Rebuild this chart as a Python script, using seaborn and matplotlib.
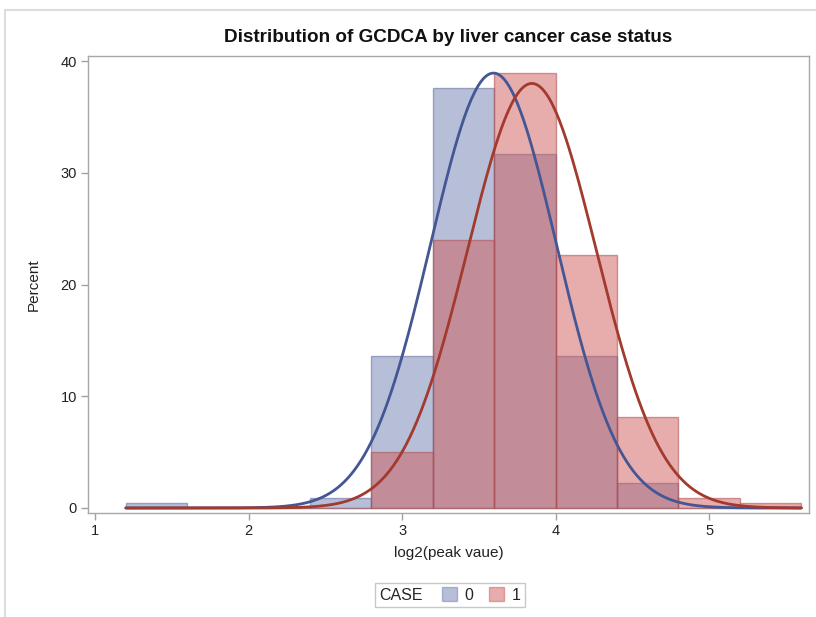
import numpy as np
import pandas as pd
import matplotlib
matplotlib.use("Agg")
import matplotlib.pyplot as plt
import seaborn as sns
from matplotlib.patches import Patch
from matplotlib.lines import Line2D
from matplotlib.offsetbox import HPacker

# ---- data ----
bin_edges = [1.2, 1.6, 2.0, 2.4, 2.8, 3.2, 3.6, 4.0, 4.4, 4.8, 5.2, 5.6]
pct_case0 = [0.45, 0.0, 0.0, 0.9, 13.57, 37.56, 31.67, 13.57, 2.26, 0.0, 0.0]
pct_case1 = [0.0, 0.0, 0.0, 0.0, 4.98, 23.98, 38.91, 22.62, 8.14, 0.9, 0.45]
case_labels = ["0", "1"]
norm_mu = [3.595, 3.845]
norm_sigma = [0.410, 0.420]
x_ticks = [1, 2, 3, 4, 5]
y_ticks = [0, 10, 20, 30, 40]

title = "Distribution of GCDCA by liver cancer case status"
xlabel = "log2(peak vaue)"
ylabel = "Percent"

fill_colors = ["#6F7EB3", "#D05B5B"]
line_colors = ["#445694", "#A23A2E"]

sns.set_style("white")
plt.rcParams["font.family"] = ["Liberation Sans", "DejaVu Sans"]

centers = [(a + b) / 2 for a, b in zip(bin_edges[:-1], bin_edges[1:])]
df = pd.DataFrame({
    "x": centers * 2,
    "pct": pct_case0 + pct_case1,
    "CASE": [case_labels[0]] * len(centers) + [case_labels[1]] * len(centers),
})

fig = plt.figure(figsize=(8.16, 6.17), dpi=100)
ax = fig.add_axes([88 / 816, 1 - 513 / 617, (809 - 88) / 816, (513 - 56) / 617])

# draw case 0 first, then case 1 on top
for lab, fc in zip(case_labels, fill_colors):
    n_before = len(ax.patches)
    sns.histplot(data=df[df["CASE"] == lab], x="x", weights="pct", bins=bin_edges,
                 element="bars", stat="count", color=fc, alpha=0.5,
                 linewidth=1.0, legend=False, ax=ax)
    rgb = matplotlib.colors.to_rgb(fc)
    for p in ax.patches[n_before:]:
        p.set_edgecolor((rgb[0] * 0.85, rgb[1] * 0.85, rgb[2] * 0.85, 0.55))

# fitted normal curves (percent scale = 100 * binwidth * pdf)
bw = bin_edges[1] - bin_edges[0]
xs = np.linspace(bin_edges[0], bin_edges[-1], 400)
for mu, sd, lc in zip(norm_mu, norm_sigma, line_colors):
    ys = 100 * bw * np.exp(-0.5 * ((xs - mu) / sd) ** 2) / (sd * np.sqrt(2 * np.pi))
    sns.lineplot(x=xs, y=ys, color=lc, linewidth=2.0, ax=ax)

ax.set_xlim(0.954, 5.65)
ax.set_ylim(-0.45, 40.45)
ax.set_xticks(x_ticks)
ax.set_yticks(y_ticks)
ax.tick_params(axis="both", direction="out", length=5, width=1, color="#A0A0A0",
               labelsize=10.5, labelcolor="#222222", pad=3,
               bottom=True, left=True)
for s in ax.spines.values():
    s.set_color("#A8A8A8")
    s.set_linewidth(1.0)
ax.set_xlabel(xlabel, fontsize=11, color="#222222", labelpad=6)
ax.set_ylabel(ylabel, fontsize=11, color="#222222", labelpad=14)
ax.set_title(title, fontsize=13.6, fontweight="bold", pad=10, color="#111111")

# legend
handles = [Patch(facecolor=c, alpha=0.5, edgecolor=c) for c in fill_colors]
leg = fig.legend(handles, case_labels, title="CASE", ncol=2, loc="center",
                 bbox_to_anchor=(450 / 816, 1 - 595 / 617), fontsize=11.5,
                 title_fontsize=11.5, frameon=True, fancybox=False,
                 handlelength=0.9, handleheight=0.9, handletextpad=0.5,
                 columnspacing=1.0, borderpad=0.3)
leg.get_frame().set_edgecolor("#BBBBBB")
leg.get_frame().set_linewidth(1.0)
leg._legend_box.__class__ = HPacker
leg._legend_box.sep = 14
leg._legend_box.align = "center"

# outer page border
fig.add_artist(Line2D([5 / 816, 1], [1 - 10 / 617, 1 - 10 / 617], color="#DDDDDD", lw=1.5))
fig.add_artist(Line2D([5 / 816, 5 / 816], [0, 1 - 10 / 617], color="#DDDDDD", lw=1.5))

fig.savefig("out.png", dpi=100)
